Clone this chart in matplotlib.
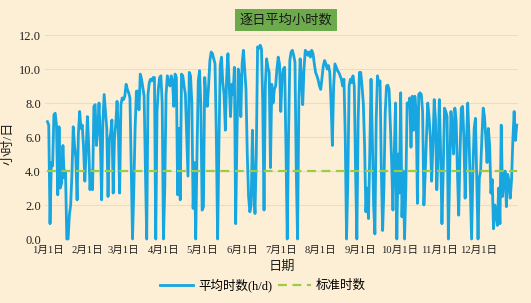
import matplotlib
matplotlib.use("Agg")
import matplotlib.pyplot as plt
import numpy as np

plt.rcParams['font.family'] = ['Liberation Serif', 'Noto Sans CJK SC', 'DejaVu Sans']

# ---- data (daily average hours) ----
jan = [6.9, 6.7, 0.9, 4.5, 4.3, 7.3, 7.4, 6.7, 2.6, 6.6, 3.0, 3.3, 5.5, 3.6, 4.0, 0.0, 0.0, 1.4, 2.0, 3.8,
       6.6, 5.5, 4.8, 2.3, 6.2, 7.5, 6.5, 6.7, 5.4, 3.4, 5.2]
feb = [7.2, 5.5, 2.9, 4.0, 2.9, 7.8, 7.9, 5.5, 6.4, 8.0, 6.0, 2.3, 6.9, 8.5, 7.5, 6.5, 2.5, 5.8, 6.2, 7.0,
       2.7, 5.9, 6.8, 8.1, 6.4, 2.7, 7.9, 8.3]
mar = [8.2, 8.4, 9.1, 8.8, 8.6, 8.3, 4.0, 0.0, 3.0, 6.5, 8.7, 8.7, 7.6, 9.7, 9.4, 8.9, 8.4, 4.0, 0.0, 8.5,
       9.2, 9.4, 9.3, 9.5, 9.5, 0.0, 7.5, 8.8, 9.5, 9.6, 8.0]
apr = [0.0, 3.0, 8.5, 9.6, 9.2, 9.0, 9.6, 9.3, 7.8, 9.7, 9.5, 2.6, 6.5, 2.3, 9.7, 9.6, 9.0, 8.5, 6.0, 3.7,
       9.8, 9.6, 8.0, 1.8, 4.5, 0.0, 5.0, 9.3, 9.9, 7.8]
may = [1.7, 1.9, 9.5, 8.4, 7.8, 9.0, 10.5, 11.0, 10.9, 10.6, 10.3, 6.0, 0.0, 5.5, 10.2, 10.7, 9.2, 8.5, 6.4, 9.5,
       10.9, 9.0, 7.2, 9.1, 8.5, 10.1, 0.9, 6.0, 10.0, 9.5, 7.2]
jun = [10.3, 11.1, 10.0, 8.8, 5.0, 2.5, 1.6, 2.0, 6.4, 3.0, 1.5, 5.0, 11.3, 11.2, 11.4, 11.2, 8.0, 1.7, 9.0, 10.6,
       10.1, 9.8, 4.2, 9.1, 8.0, 8.8, 9.0, 10.0, 10.7, 10.3]
jul = [7.5, 9.5, 10.0, 10.1, 5.4, 0.0, 6.0, 10.5, 11.0, 11.1, 10.8, 10.4, 4.0, 0.0, 8.0, 10.6, 9.5, 7.9, 10.0, 11.1,
       11.0, 10.8, 11.0, 10.7, 11.1, 10.9, 10.3, 9.8, 9.6, 9.35, 9.0]
aug = [8.8, 9.5, 10.2, 10.5, 10.3, 10.0, 10.2, 9.8, 8.0, 5.5, 9.0, 10.3, 10.1, 9.9, 9.8, 9.6, 9.4, 9.0, 9.4, 6.0,
       0.0, 3.5, 9.0, 9.4, 9.2, 9.6, 9.0, 4.0, 0.0, 7.0, 9.8]
sep = [9.8, 9.0, 8.0, 5.5, 1.6, 3.0, 1.2, 5.0, 9.4, 6.0, 2.0, 0.3, 7.0, 9.6, 9.1, 9.3, 4.0, 0.5, 3.0, 7.4,
       9.0, 9.05, 8.8, 6.6, 4.5, 1.7, 5.0, 8.0, 0.0, 5.0]
oct_ = [2.7, 8.6, 1.3, 4.0, 0.0, 3.0, 8.0, 7.8, 8.3, 5.4, 8.4, 6.4, 8.4, 7.5, 2.1, 8.5, 8.6, 8.5, 7.5, 2.0,
        3.8, 6.0, 8.0, 7.2, 6.0, 3.4, 5.5, 8.2, 7.0, 2.9, 5.0]
nov = [8.2, 5.0, 0.9, 4.0, 7.7, 7.5, 7.2, 0.0, 4.0, 7.5, 6.4, 5.0, 7.7, 7.0, 4.0, 1.4, 5.0, 7.7, 7.8, 6.0,
       2.4, 5.5, 8.0, 6.0, 3.0, 0.0, 4.0, 6.5, 7.1, 3.5]
dec = [0.0, 3.6, 4.0, 6.0, 7.7, 7.2, 6.0, 4.5, 6.5, 5.5, 2.7, 3.5, 0.6, 2.0, 1.5, 0.8, 3.0, 0.9, 6.7, 2.5,
       3.5, 4.0, 1.9, 3.8, 3.4, 2.4, 3.5, 5.8, 7.5, 5.8, 6.7]

standard_hours = 4.0
month_labels = ["1月1日", "2月1日", "3月1日", "4月1日", "5月1日", "6月1日",
                "7月1日", "8月1日", "9月1日", "10月1日", "11月1日", "12月1日"]
month_lengths = [31, 28, 31, 30, 31, 30, 31, 31, 30, 31, 30, 31]
y_ticks = [0.0, 2.0, 4.0, 6.0, 8.0, 10.0, 12.0]

daily = np.array(jan + feb + mar + apr + may + jun + jul + aug + sep + oct_ + nov + dec)
days = np.arange(len(daily))
month_starts = np.concatenate([[0], np.cumsum(month_lengths)[:-1]])

W, H = 531, 303
fig = plt.figure(figsize=(W / 100, H / 100), dpi=100)
bg = '#FCEFD5'
fig.patch.set_facecolor(bg)

ax = fig.add_axes([45 / W, 1 - 239 / H, (518 - 45) / W, (239 - 35) / H])
ax.set_facecolor(bg)
for s in ax.spines.values():
    s.set_visible(False)

ax.set_xlim(-1.9, 365.0)
ax.set_ylim(0, 12.0)
ax.set_yticks(y_ticks)
ax.set_yticklabels([f"{v:.1f}" for v in y_ticks], fontsize=9, color='#222222')
ax.set_xticks(month_starts)
ax.set_xticklabels(month_labels, fontsize=7.6, color='#222222')
ax.tick_params(axis='y', length=0, pad=3)
ax.tick_params(axis='x', length=0, pad=5)
ax.grid(axis='y', color='#EDDDC0', linewidth=0.8)
ax.set_axisbelow(True)

line1, = ax.plot(days, daily, color='#17A6E0', linewidth=2.0, clip_on=False, zorder=3)
line2 = ax.axhline(standard_hours, color='#9ACD45', linewidth=1.6, linestyle=(0, (4, 2.5)), zorder=4,
                   xmin=1.9 / 366.9, xmax=(364 + 1.9) / 366.9)

ax.set_xlabel("日期", fontsize=9.5, color='#222222', labelpad=4)
ax.set_ylabel("小时/日", fontsize=9.5, color='#222222')
ax.yaxis.set_label_coords((15 - 45) / (518 - 45), 0.47)

fig.text(286 / W, 1 - 20 / H, "逐日平均小时数", ha='center', va='center', fontsize=9.5,
         color='#1a1a1a', family=['Noto Sans CJK SC'],
         bbox=dict(boxstyle='square,pad=0.35', facecolor='#6CAA4B', edgecolor='none'))

fig.legend([line1, line2], ["平均时数(h/d)", "标准时数"], loc='center',
           bbox_to_anchor=(263 / W, 1 - 285 / H), ncol=2, frameon=False, fontsize=9,
           handlelength=2.6, handletextpad=0.4, columnspacing=0.5)

fig.savefig("out.png", dpi=100, facecolor=bg)
